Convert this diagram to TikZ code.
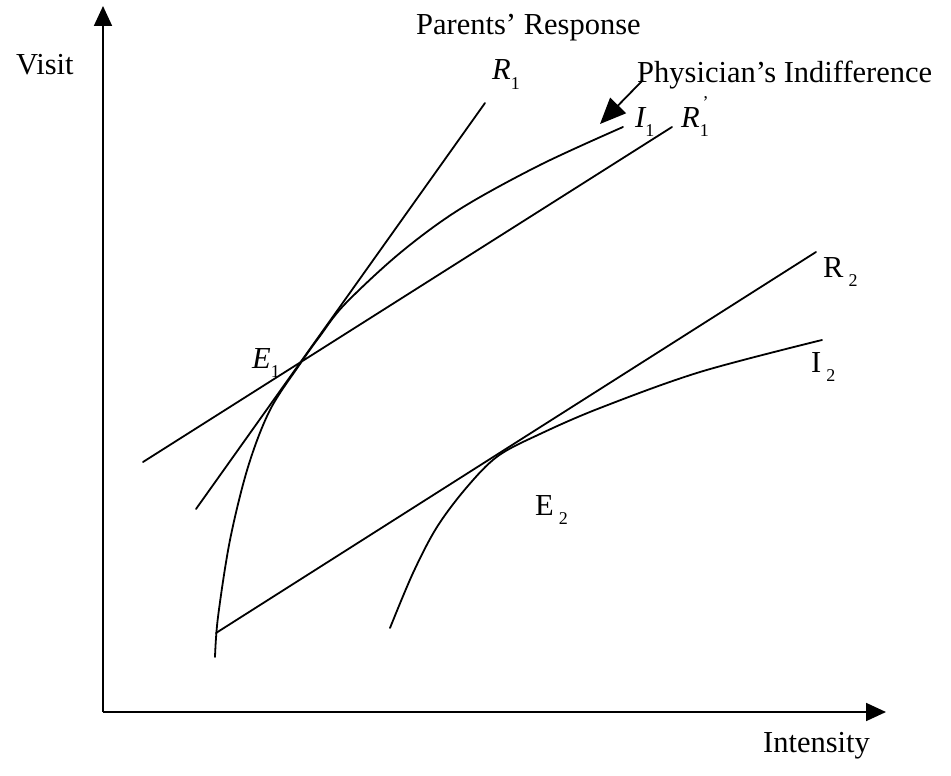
\documentclass[tikz,border=0pt]{standalone}
\usepackage{fontspec}
\setmainfont{Liberation Serif}
\usetikzlibrary{arrows.meta}
\newcommand{\sbs}[1]{\raisebox{-0.3em}{\upshape\fontsize{18}{20}\selectfont #1}}
\begin{document}
\begin{tikzpicture}[x=1pt,y=-1pt,
  ln/.style={line width=1.8pt, line cap=round},
  axis/.style={line width=1.8pt, -{Triangle[length=20pt,width=18pt]}},
  lbl/.style={font=\fontsize{30.5}{36}\selectfont, inner sep=0pt}]
\useasboundingbox (0,0) rectangle (951,776);
% axes
\coordinate (O) at (103,712);
\coordinate (Ytip) at (103,6);
\coordinate (Xtip) at (886,712);
\draw[axis] (O) -- (Ytip);
\draw[axis] (O) -- (Xtip);
% lines
\coordinate (R1a) at (196,509);
\coordinate (R1b) at (485,103);
\coordinate (R1pa) at (143,462);
\coordinate (R1pb) at (672,127);
\coordinate (R2a) at (216,633);
\coordinate (R2b) at (816,252);
\draw[ln] (R1a) -- (R1b);
\draw[ln] (R1pa) -- (R1pb);
\draw[ln] (R2a) -- (R2b);
% indifference curves
\draw[ln] plot[smooth, tension=0.55] coordinates {(215,657) (218,617) (230,540) (248,467) (270,410) (300,364) (320,336) (345,304) (400,253) (460,209) (540,165) (623,127)};
\draw[ln] plot[smooth, tension=0.55] coordinates {(390,628) (413,573) (437,527) (467,487) (498,456) (540,434) (600,408) (700,372) (822,340)};
% physician arrow
\coordinate (Pa) at (642,81);
\coordinate (Pb) at (600,124);
\draw[line width=1.8pt, -{Triangle[length=26pt,width=22pt]}] (Pa) -- (Pb);
% labels
\node[lbl, anchor=base west] (visit) at (16,75) {Visit};
\node[lbl, anchor=base west] (intens) at (763,752) {Intensity};
\node[lbl, anchor=base west] (parents) at (416,35) {Parents’ Response};
\node[lbl, anchor=base west] (phys) at (637,82) {Physician’s Indifference};
\node[lbl, anchor=base west] (lR1) at (492,80) {\itshape R\sbs{1}};
\node[lbl, anchor=base west] (lI1) at (635,127) {\itshape I\sbs{1}};
\node[lbl, anchor=base west] (lR1p) at (681,127) {\itshape R\sbs{1}\hspace{-0.2em}\raisebox{0.6em}{\upshape\fontsize{18}{20}\selectfont '}};
\node[lbl, anchor=base west] (lE1) at (252,368) {\itshape E\sbs{1}};
\node[lbl, anchor=base west] (lE2) at (535,515) {E\,\sbs{2}};
\node[lbl, anchor=base west] (lR2) at (823,277) {R\,\sbs{2}};
\node[lbl, anchor=base west] (lI2) at (811,372) {I\,\sbs{2}};
\end{tikzpicture}
\end{document}
